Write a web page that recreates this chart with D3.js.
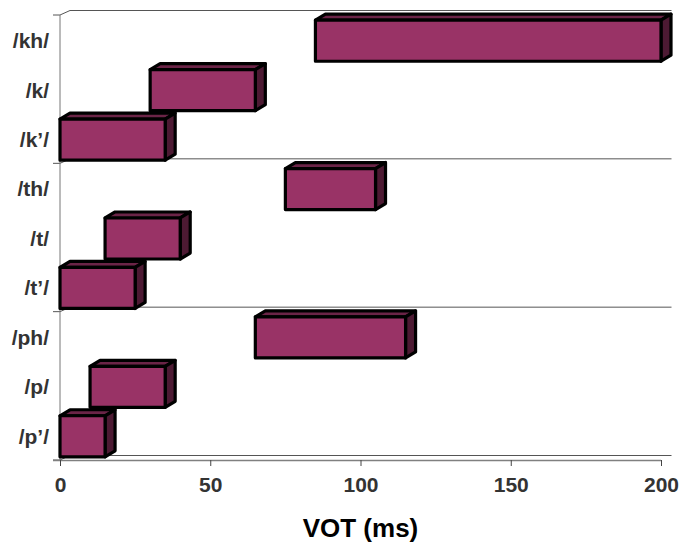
<!DOCTYPE html>
<html>
<head>
<meta charset="utf-8">
<script src="https://cdn.jsdelivr.net/npm/d3@7"></script>
<style>
  html, body { margin: 0; padding: 0; background: #fff; }
  svg { display: block; font-family: "Liberation Sans", Arial, sans-serif; }
</style>
</head>
<body>
<svg id="chart" width="682" height="553"></svg>
<script>
// ---- data ----
const categories = ["/kh/", "/k/", "/k\u2019/", "/th/", "/t/", "/t\u2019/", "/ph/", "/p/", "/p\u2019/"];
const votStart = [85, 30, 0, 75, 15, 0, 65, 10, 0];
const votEnd   = [200, 65, 35, 105, 40, 25, 115, 35, 15];
const xTicks = [0, 50, 100, 150, 200];
const groupBoundaries = ["/kh/", "/th/", "/ph/"];
const xTitle = "VOT (ms)";

(function () {
// ---- layout ----
const svg = d3.select("#chart");
const mLeft = 60, mRight = 661, mTop = 15, mBottom = 460;
const depthX = 10, depthY = 4.5;   // frame depth offset
const barDX = 10, barDY = 6;       // bar 3D offset

const x = d3.scaleLinear().domain([0, 200]).range([mLeft, mRight]);
const y = d3.scaleBand().domain(categories).range([mTop, mBottom]).paddingInner(0.17).paddingOuter(0.085);

const boundaryYs = groupBoundaries.map(c => mTop + categories.indexOf(c) * (mBottom - mTop) / categories.length).concat([mBottom]);

const g = svg.append("g");

// back-plane gridlines
boundaryYs.forEach(yy => {
  g.append("line")
    .attr("x1", mLeft + depthX).attr("x2", mRight + depthX + 0.5)
    .attr("y1", yy - depthY).attr("y2", yy - depthY)
    .attr("stroke", "#555").attr("stroke-width", 1);
  g.append("line")
    .attr("x1", mLeft).attr("y1", yy)
    .attr("x2", mLeft + depthX).attr("y2", yy - depthY)
    .attr("stroke", "#555").attr("stroke-width", 1);
  g.append("line")
    .attr("x1", mLeft - 7).attr("x2", mLeft)
    .attr("y1", yy).attr("y2", yy)
    .attr("stroke", "#555").attr("stroke-width", 1);
});

// y axis line
g.append("line")
  .attr("x1", mLeft).attr("x2", mLeft)
  .attr("y1", mTop).attr("y2", mBottom)
  .attr("stroke", "#777").attr("stroke-width", 1);

// x axis
const xAxis = d3.axisBottom(x).tickValues(xTicks).tickSize(6).tickPadding(11).tickFormat(d3.format("d"));
const xa = g.append("g").attr("transform", `translate(0,${mBottom})`).call(xAxis);
xa.select(".domain").attr("stroke", "#808080").attr("stroke-width", 1.5)
  .attr("d", `M${mLeft - 7},0.5H${mRight}`);
xa.selectAll(".tick line").attr("stroke", "#444");
xa.selectAll(".tick text")
  .attr("fill", "#333").attr("font-size", 21).attr("font-weight", "bold")
  .attr("font-family", "'Liberation Sans', Arial, sans-serif")
  .attr("dy", "0.71em");

// category labels
g.selectAll(".cat")
  .data(categories)
  .enter().append("text")
  .attr("x", 49)
  .attr("y", d => y(d) + y.bandwidth() / 2 + 1)
  .attr("dy", "0.35em")
  .attr("text-anchor", "end")
  .attr("font-size", 21).attr("font-weight", "bold")
  .attr("fill", "#333")
  .text(d => d);

// bars
const bars = categories.map((c, i) => ({ c, s: votStart[i], e: votEnd[i] }));
const bg = g.selectAll(".bar").data(bars).enter().append("g").attr("class", "bar");

bg.each(function(d) {
  const sel = d3.select(this);
  const x0 = x(d.s), x1 = x(d.e);
  const y0 = y(d.c) + 1, y1 = y(d.c) + 1 + y.bandwidth();
  const common = s => s.attr("stroke", "#000").attr("stroke-width", 3.2).attr("stroke-linejoin", "round");
  common(sel.append("polygon")
    .attr("points", [[x0, y0], [x0 + barDX, y0 - barDY], [x1 + barDX, y0 - barDY], [x1, y0]].map(p => p.join(",")).join(" "))
    .attr("fill", "#6b2447"));
  common(sel.append("polygon")
    .attr("points", [[x1, y0], [x1 + barDX, y0 - barDY], [x1 + barDX, y1 - barDY], [x1, y1]].map(p => p.join(",")).join(" "))
    .attr("fill", "#4d1a33"));
  common(sel.append("rect")
    .attr("x", x0).attr("y", y0)
    .attr("width", x1 - x0).attr("height", y1 - y0)
    .attr("fill", "#993366"));
});

// x title
svg.append("text")
  .attr("x", (mLeft + mRight) / 2)
  .attr("y", 537)
  .attr("text-anchor", "middle")
  .attr("font-size", 26).attr("font-weight", "bold")
  .attr("fill", "#000")
  .text(xTitle);
})();
</script>
</body>
</html>
